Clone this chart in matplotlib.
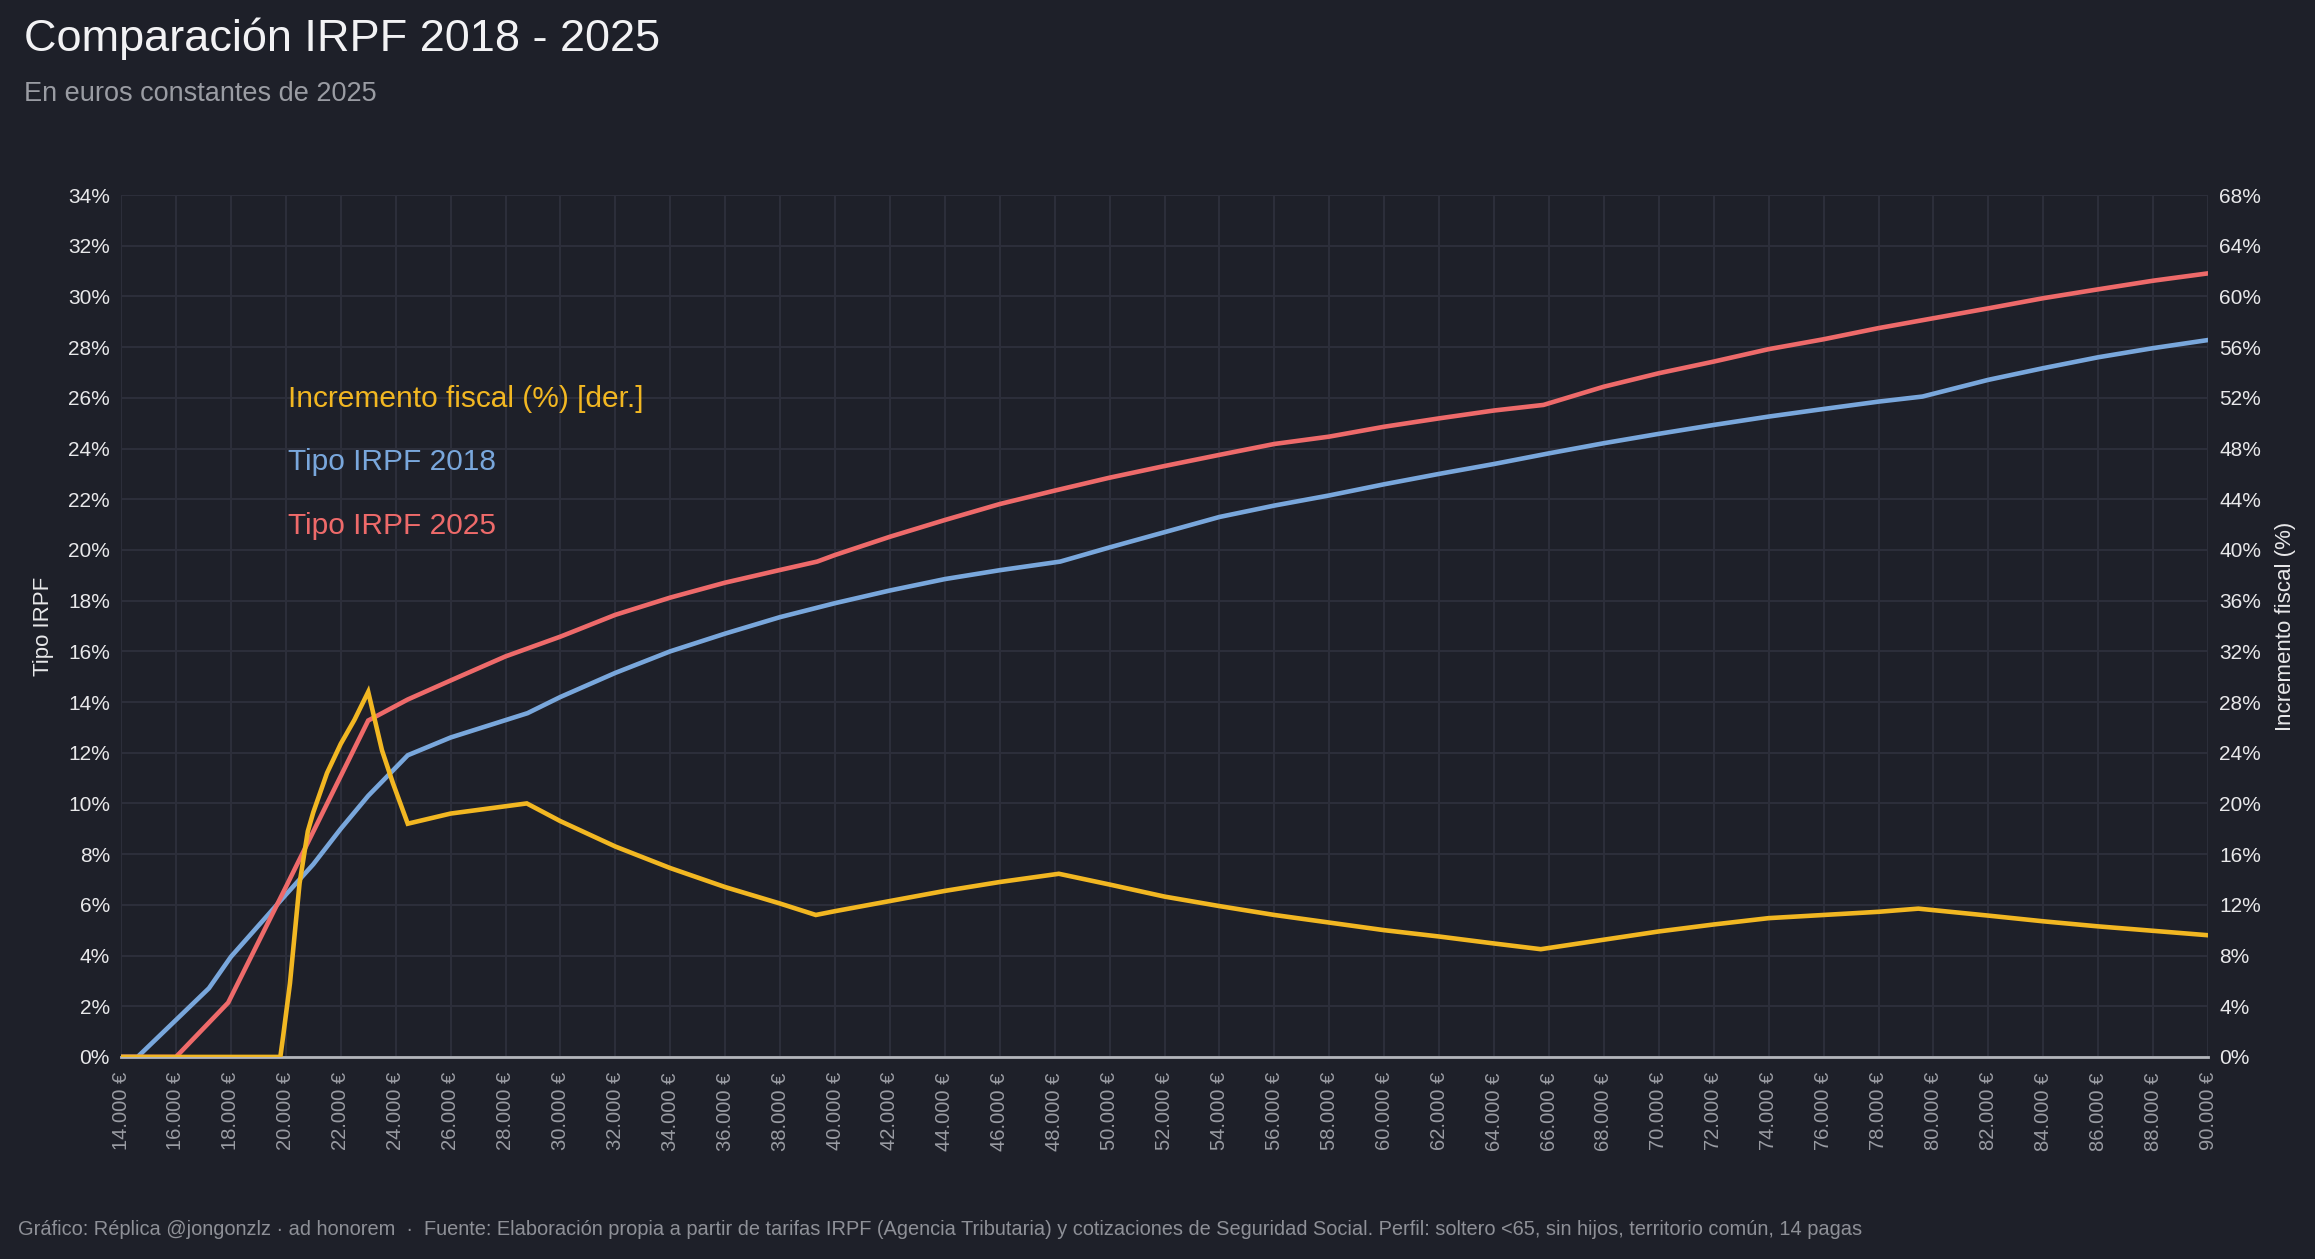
import matplotlib.pyplot as plt
from matplotlib.ticker import FuncFormatter, MultipleLocator

plt.rcParams['font.family'] = ['Liberation Sans', 'DejaVu Sans']

# Datos (renta bruta en euros, tipos en %)
renta_2018 = [14000, 14600, 17200, 18000, 20000, 21000, 22000, 23000, 24440, 26000,
              28800, 30000, 32000, 34000, 36000, 38000, 40000, 42000, 44000, 46000,
              48200, 50000, 52000, 54000, 56000, 58000, 60000, 62000, 64000, 66000,
              68000, 70000, 72000, 74000, 76000, 78000, 79600, 82000, 84000, 86000,
              88000, 90000]
tipo_2018 = [0, 0, 2.71, 3.95, 6.4, 7.6, 9.0, 10.3, 11.9, 12.6,
             13.56, 14.2, 15.15, 16.0, 16.7, 17.35, 17.9, 18.4, 18.85, 19.2,
             19.54, 20.1, 20.7, 21.3, 21.75, 22.15, 22.59, 23.0, 23.39, 23.81,
             24.21, 24.58, 24.93, 25.26, 25.56, 25.85, 26.05, 26.71, 27.17, 27.6,
             27.96, 28.28]

renta_2025 = [14000, 16000, 17900, 20000, 23000, 24440, 26000, 28000, 30000, 32000,
              34000, 36000, 38000, 39350, 40000, 42000, 44000, 46000, 48000, 50000,
              52000, 54000, 56000, 58000, 60000, 62000, 64000, 65800, 68000, 70000,
              72000, 74000, 76000, 78000, 80000, 82000, 84000, 86000, 88000, 90000]
tipo_2025 = [0, 0, 2.14, 6.7, 13.27, 14.1, 14.85, 15.8, 16.58, 17.44,
             18.12, 18.71, 19.21, 19.54, 19.8, 20.52, 21.18, 21.81, 22.34, 22.85,
             23.31, 23.75, 24.18, 24.47, 24.86, 25.19, 25.5, 25.72, 26.44, 26.97,
             27.43, 27.92, 28.31, 28.75, 29.14, 29.53, 29.93, 30.28, 30.62, 30.91]

renta_incr = [14000, 19800, 19900, 20150, 20500, 20800, 21000, 21500, 22000, 22500,
              23000, 23500, 23900, 24440, 26000, 28775, 30000, 32000, 34000, 36000,
              38000, 39300, 40000, 42000, 44000, 46000, 48150, 50000, 52000, 54000,
              56000, 58000, 60000, 62000, 64000, 65700, 68000, 70000, 72000, 74000,
              76000, 78000, 79450, 82000, 84000, 86000, 88000, 90000]
incremento = [0, 0, 1.6, 5.8, 13.7, 17.8, 19.3, 22.4, 24.7, 26.6,
              28.8, 24.2, 21.6, 18.4, 19.2, 20.0, 18.6, 16.6, 14.9, 13.4,
              12.1, 11.2, 11.5, 12.3, 13.1, 13.8, 14.45, 13.6, 12.65, 11.9,
              11.2, 10.6, 10.0, 9.5, 8.95, 8.5, 9.25, 9.9, 10.45, 10.95,
              11.2, 11.45, 11.7, 11.15, 10.7, 10.3, 9.95, 9.6]

fondo = '#1e2029'
rejilla = '#2c2e3a'
c_2018 = '#79a7dc'
c_2025 = '#ee6a6a'
c_incr = '#f2b722'

fig = plt.figure(figsize=(23.15, 12.59), dpi=100, facecolor=fondo)
ax = fig.add_axes([0.0523, 0.1605, 0.9015, 0.6846])
ax.set_facecolor(fondo)
ax2 = ax.twinx()

ax.plot(renta_2018, tipo_2018, color=c_2018, lw=3.3, solid_joinstyle='miter', zorder=3)
ax.plot(renta_2025, tipo_2025, color=c_2025, lw=3.3, solid_joinstyle='miter', zorder=3)
ax2.plot(renta_incr, incremento, color=c_incr, lw=3.3, solid_joinstyle='miter', zorder=4)

ax.set_xlim(14000, 90000)
ax.set_ylim(0, 34)
ax2.set_ylim(0, 68)
ax.xaxis.set_major_locator(MultipleLocator(2000))
ax.yaxis.set_major_locator(MultipleLocator(2))
ax2.yaxis.set_major_locator(MultipleLocator(4))

ax.xaxis.set_major_formatter(FuncFormatter(lambda v, p: f"{int(v):,} €".replace(',', '.')))
ax.yaxis.set_major_formatter(FuncFormatter(lambda v, p: f"{int(round(v))}%"))
ax2.yaxis.set_major_formatter(FuncFormatter(lambda v, p: f"{int(round(v))}%"))

ax.grid(True, color=rejilla, lw=1.5)
ax.set_axisbelow(True)
for a in (ax, ax2):
    for s in ('top', 'left', 'right', 'bottom'):
        a.spines[s].set_visible(False)
ax.spines['bottom'].set_visible(True)
ax.spines['bottom'].set_color('#b4b6bc')
ax.spines['bottom'].set_linewidth(2)

ax.tick_params(axis='x', colors='#9a9ca3', labelsize=14.5, labelrotation=90, length=0, pad=11)
ax.tick_params(axis='y', colors='#e8e8ea', labelsize=15, length=0, pad=8)
ax2.tick_params(axis='y', colors='#e8e8ea', labelsize=15, length=0, pad=8)

ax.set_ylabel('Tipo IRPF', color='#e8e8ea', fontsize=16, labelpad=10)
ax2.set_ylabel('Incremento fiscal (%)', color='#e8e8ea', fontsize=16, labelpad=10)

# leyenda como texto dentro del grafico
ax.text(0.0799, 0.763, 'Incremento fiscal (%) [der.]', transform=ax.transAxes,
        color=c_incr, fontsize=21.5, va='center')
ax.text(0.0799, 0.690, 'Tipo IRPF 2018', transform=ax.transAxes,
        color=c_2018, fontsize=21.5, va='center')
ax.text(0.0799, 0.616, 'Tipo IRPF 2025', transform=ax.transAxes,
        color=c_2025, fontsize=21.5, va='center')

fig.text(0.0104, 0.969, 'Comparación IRPF 2018 - 2025', color='#f2f2f4', fontsize=32.5, va='center')
fig.text(0.0104, 0.925, 'En euros constantes de 2025', color='#9a9ca3', fontsize=19.5, va='center')
fig.text(0.0078, 0.0235,
         'Gráfico: Réplica @jongonzlz · ad honorem  ·  Fuente: Elaboración propia a partir de tarifas IRPF '
         '(Agencia Tributaria) y cotizaciones de Seguridad Social. Perfil: soltero <65, sin hijos, '
         'territorio común, 14 pagas',
         color='#8e9097', fontsize=14.4, va='center')

fig.savefig('out.png', dpi=100, facecolor=fondo)
